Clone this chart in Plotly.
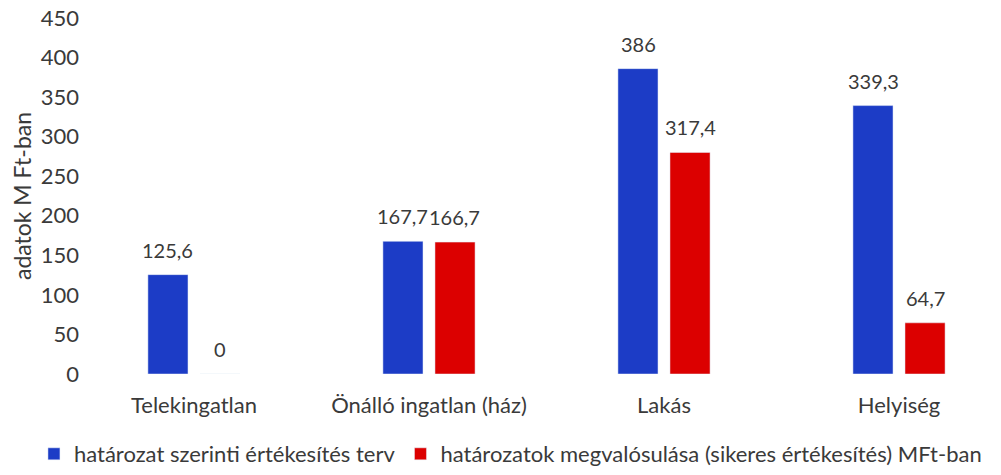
import plotly.graph_objects as go

# categories and series
kategoriak = ["Telekingatlan", "Önálló ingatlan (ház)", "Lakás", "Helyiség"]
terv = [125.6, 167.7, 386, 339.3]
# the red Lakás bar is drawn at ~280 in the original although its label reads 317,4
megvalosulas = [0, 166.7, 280, 64.7]
terv_cimke = ["125,6", "167,7", "386", "339,3"]
megval_cimke = ["0", "166,7", "317,4", "64,7"]

nev_terv = "határozat szerinti értékesítés terv"
nev_megval = "határozatok megvalósulása (sikeres értékesítés) MFt-ban"

KEK = "#1c3cc6"
PIROS = "#dc0000"
FONT = "Lato"
SZIN = "#3a3a3a"

fig = go.Figure()
fig.add_trace(go.Bar(x=kategoriak, y=terv, name=nev_terv, marker_color=KEK))
fig.add_trace(go.Bar(x=kategoriak, y=megvalosulas, name=nev_megval, marker_color=PIROS))

# value labels sit a bit above each bar
for kat, v, t in zip(kategoriak, terv, terv_cimke):
    fig.add_annotation(x=kat, y=v, text=t, xshift=-26, yshift=25, showarrow=False,
                       yanchor="middle", font=dict(family=FONT, size=20, color=SZIN))
for kat, v, t in zip(kategoriak, megvalosulas, megval_cimke):
    fig.add_annotation(x=kat, y=v, text=t, xshift=26, yshift=25, showarrow=False,
                       yanchor="middle", font=dict(family=FONT, size=20, color=SZIN))

fig.update_layout(
    width=1001, height=475,
    margin=dict(l=80, r=0, t=18, b=100),
    plot_bgcolor="white", paper_bgcolor="white",
    font=dict(family=FONT, size=20, color=SZIN),
    barmode="group", bargap=0.557, bargroupgap=0.23,
    showlegend=True,
    legend=dict(orientation="h", x=-0.05, xanchor="left", y=-0.225, yanchor="middle",
                font=dict(size=22), itemwidth=30, tracegroupgap=0),
)
fig.update_xaxes(range=[-0.485, 3.434], showgrid=False, showline=False, ticks="",
                 tickfont=dict(size=22), ticklabelstandoff=16, automargin=False)
fig.update_yaxes(range=[0, 450], dtick=50, showgrid=False, showline=False, zeroline=False,
                 tickfont=dict(size=22), automargin=False, ticklabeloverflow="allow",
                 title=dict(text="adatok M Ft-ban", font=dict(size=23), standoff=2))

# drop the default 8px body margin so the figure fills the window
fig.write_html("out.html", config={"displayModeBar": False},
               post_script="document.body.style.margin='0px';")
